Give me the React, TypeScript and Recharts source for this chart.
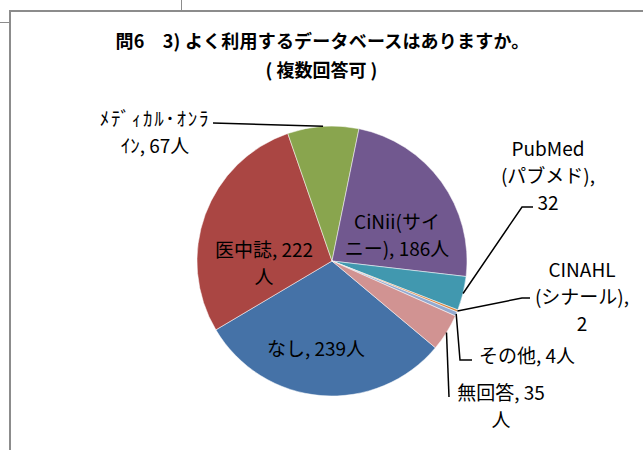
import { PieChart, Pie, Cell } from 'recharts';

const categories = ['なし', '医中誌', 'ﾒﾃﾞｨｶﾙ･ｵﾝﾗｲﾝ', 'CiNii(サイニー)', 'PubMed(パブメド)', 'CINAHL(シナール)', 'その他', '無回答'];
const counts = [239, 222, 67, 186, 32, 2, 4, 35];
const labelLines = [
    ['なし, 239人'],
    ['医中誌, 222', '人'],
    ['ﾒﾃﾞｨｶﾙ･ｵﾝﾗ', 'ｲﾝ, 67人'],
    ['CiNii(サイ', 'ニー), 186人'],
    ['PubMed', '(パブメド),', '32'],
    ['CINAHL', '(シナール),', '2'],
    ['その他, 4人'],
    ['無回答, 35', '人'],
];
const colors = ['#4572A7', '#AA4643', '#89A54E', '#71588F', '#4198AF', '#DB843D', '#93A9CF', '#D19392'];

const data = categories.map((name, i) => ({ name, value: counts[i], lines: labelLines[i] }));

const FONT = "'Noto Sans CJK JP', 'Noto Sans', sans-serif";
const RAD = Math.PI / 180;

// label placement relative to the pie centre: text block centre (tx, ty), leader elbow, leader end
const layout: Record<number, { tx: number; ty: number; elbow?: [number, number]; end?: [number, number]; ls?: number }> = {
    0: { tx: -16, ty: 86 },
    1: { tx: -68, ty: 0 },
    2: { tx: -177, ty: -131, end: [-119, -138], ls: 1.7 },
    3: { tx: 65, ty: -28 },
    4: { tx: 216, ty: -87, elbow: [190, -54], end: [201, -54] },
    5: { tx: 250, ty: 34, elbow: [190, 37], end: [198, 37] },
    6: { tx: 195, ty: 93, elbow: [128, 99], end: [140, 99] },
    7: { tx: 169, ty: 143, end: [117, 136] },
};

const renderLabel = (props: any) => {
    const { cx, cy, midAngle, outerRadius, index, payload } = props;
    const cfg = layout[index];
    const lines: string[] = payload.lines;
    const lh = 27;
    const x0 = cx + outerRadius * Math.cos(-midAngle * RAD);
    const y0 = cy + outerRadius * Math.sin(-midAngle * RAD);
    const pts: string[] = [`${x0},${y0}`];
    if (cfg.elbow) pts.push(`${cx + cfg.elbow[0]},${cy + cfg.elbow[1]}`);
    if (cfg.end) pts.push(`${cx + cfg.end[0]},${cy + cfg.end[1]}`);
    const startY = cy + cfg.ty - ((lines.length - 1) * lh) / 2;
    return (
        <g>
            {cfg.end && <polyline points={pts.join(' ')} fill="none" stroke="#000" strokeWidth={1.5} />}
            <text
                x={cx + cfg.tx}
                y={startY}
                textAnchor="middle"
                dominantBaseline="central"
                fill="#000"
                style={{ fontSize: '19px', fontFamily: FONT }}
            >
                {lines.map((l, i) => (
                    <tspan
                        key={i}
                        x={cx + cfg.tx}
                        y={startY + i * lh}
                        style={{ letterSpacing: cfg.ls && i === 0 ? `${cfg.ls}px` : undefined }}
                    >
                        {l}
                    </tspan>
                ))}
            </text>
        </g>
    );
};

const lineStyle = { position: 'absolute' as const, background: '#8c8c8c' };

export default function App() {
    return (
        <div style={{ position: 'absolute', left: 0, top: 0, width: 643, height: 450, background: '#fff', overflow: 'hidden' }}>
            <div style={{ ...lineStyle, left: 10, top: 10, width: 633, height: 2 }} />
            <div style={{ ...lineStyle, left: 9, top: 10, width: 2, height: 440 }} />
            <div style={{ ...lineStyle, left: 0, top: 22, width: 10, height: 1 }} />
            <div style={{ ...lineStyle, left: 181, top: 0, width: 1, height: 10 }} />
            <div
                style={{
                    position: 'absolute',
                    left: 0,
                    width: 643,
                    top: 26,
                    textAlign: 'center',
                    fontFamily: FONT,
                    fontWeight: 'bold',
                    fontSize: '18px',
                    lineHeight: '29px',
                    color: '#000',
                }}
            >
                <div style={{ paddingLeft: 2, letterSpacing: '0.2px' }}>問6　3) よく利用するデータベースはありますか。</div>
                <div>( 複数回答可 )</div>
            </div>
            <div style={{ position: 'absolute', left: 0, top: 0 }}>
                <PieChart width={643} height={450} margin={{ top: 0, right: 0, bottom: 0, left: 0 }}>
                    <Pie
                        data={data}
                        dataKey="value"
                        nameKey="name"
                        cx={332}
                        cy={261}
                        outerRadius={135}
                        startAngle={-40}
                        endAngle={-400}
                        stroke="#fff"
                        strokeWidth={0.5}
                        label={renderLabel}
                        labelLine={false}
                        isAnimationActive={false}
                    >
                        {data.map((d, i) => (
                            <Cell key={d.name} fill={colors[i]} />
                        ))}
                    </Pie>
                </PieChart>
            </div>
        </div>
    );
}
